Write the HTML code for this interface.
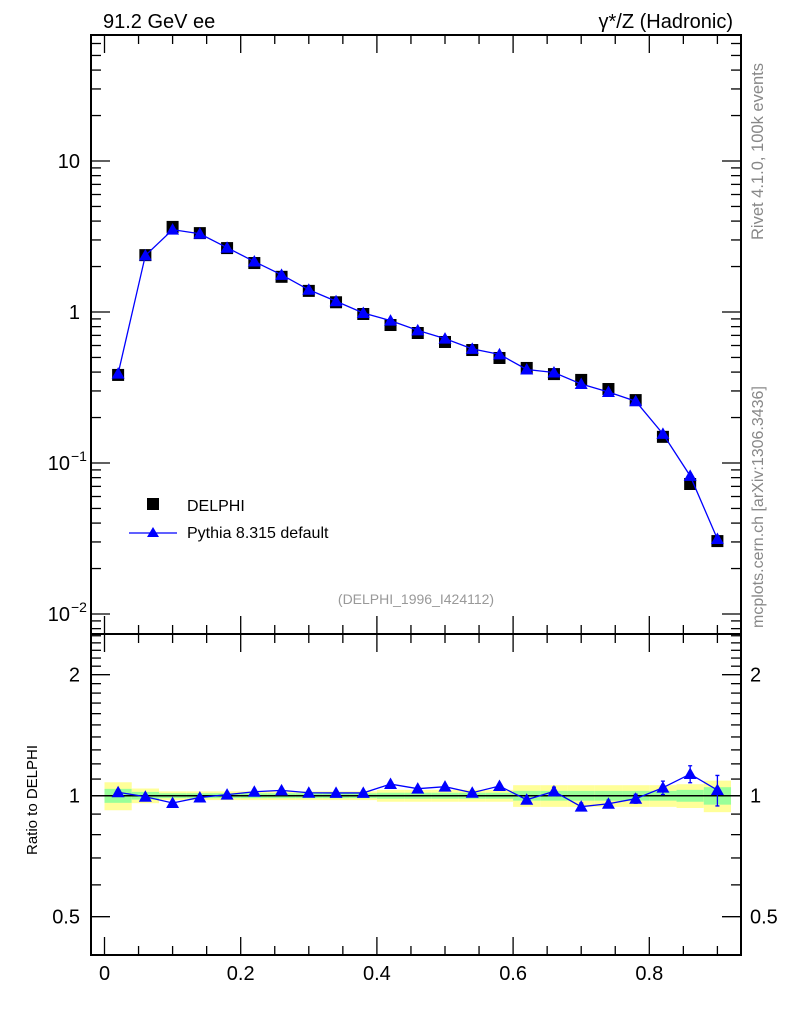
<!DOCTYPE html>
<html><head><meta charset="utf-8"><style>
html,body{margin:0;padding:0;background:#fff;}
svg{display:block;font-family:"Liberation Sans",Arial,sans-serif;}
</style></head><body>
<svg id="chart" width="786" height="1024" viewBox="0 0 786 1024" xmlns="http://www.w3.org/2000/svg">
<g id="bands"></g>
<g id="axes"></g>
<g id="marks"></g>
<text x="103" y="28" font-size="20">91.2 GeV ee</text>
<text x="733" y="28" font-size="20" text-anchor="end">γ*/Z (Hadronic)</text>
<text transform="translate(763,240) rotate(-90)" font-size="16.5" fill="#888">Rivet 4.1.0,  100k events</text>
<text transform="translate(763,628) rotate(-90)" font-size="16" fill="#888">mcplots.cern.ch [arXiv:1306.3436]</text>
<text x="416" y="604" font-size="14" fill="#999" text-anchor="middle">(DELPHI_1996_I424112)</text>
<text transform="translate(37,800) rotate(-90)" font-size="15" text-anchor="middle">Ratio to DELPHI</text>
<g>
<rect x="147" y="498" width="12" height="12" fill="#000"/>
<text x="187" y="511" font-size="16">DELPHI</text>
<line x1="129" y1="533" x2="177" y2="533" stroke="#00f" stroke-width="1.3"/>
<polygon points="153,527 147,537 159,537" fill="#00f"/>
<text x="187" y="538" font-size="16">Pythia 8.315 default</text>
</g>
</svg>
<script>
const xCenters=[0.02,0.06,0.10,0.14,0.18,0.22,0.26,0.30,0.34,0.38,0.42,0.46,0.50,0.54,0.58,0.62,0.66,0.70,0.74,0.78,0.82,0.86,0.90];
const dataValues=[0.383,2.38,3.66,3.33,2.65,2.11,1.71,1.38,1.16,0.97,0.82,0.726,0.633,0.56,0.496,0.426,0.388,0.355,0.309,0.261,0.149,0.0726,0.0304];
const ratioValues=[1.02,0.994,0.959,0.99,1.006,1.023,1.031,1.017,1.016,1.016,1.069,1.041,1.053,1.017,1.057,0.977,1.025,0.939,0.955,0.983,1.047,1.132,1.033];
const ratioErrors=[0.015,0.008,0.008,0.008,0.008,0.008,0.008,0.008,0.008,0.008,0.01,0.01,0.01,0.01,0.01,0.015,0.025,0.02,0.02,0.025,0.04,0.055,0.09];
const greenBand=[0.04,0.022,0.014,0.014,0.014,0.014,0.014,0.014,0.014,0.014,0.017,0.017,0.017,0.017,0.017,0.028,0.028,0.028,0.028,0.028,0.028,0.034,0.05];
const yellowBand=[0.08,0.042,0.025,0.025,0.025,0.025,0.025,0.025,0.025,0.025,0.034,0.034,0.034,0.034,0.034,0.062,0.062,0.062,0.062,0.062,0.062,0.068,0.09];
const binWidth=0.04;
const xTickLabels=["0","0.2","0.4","0.6","0.8"];
const ratioTickLabels=["0.5","1","2"];

const NS="http://www.w3.org/2000/svg";
const L=91,R=741,T=35,MB=634,RB=955;
const X=v=>104.5+v*681;
const Y=v=>312-151*Math.log10(v);
const YR=v=>795.7-121*Math.log2(v);
function mk(tag,attrs,parent){const e=document.createElementNS(NS,tag);for(const k in attrs)e.setAttribute(k,attrs[k]);parent.appendChild(e);return e;}
const axes=document.getElementById('axes'),marks=document.getElementById('marks'),bands=document.getElementById('bands');

xCenters.forEach((c,i)=>{
  const x0=X(c-binWidth/2),x1=X(c+binWidth/2);
  const y=mk('rect',{x:x0,y:YR(1+yellowBand[i]),width:x1-x0,height:YR(1-yellowBand[i])-YR(1+yellowBand[i]),fill:'#ffff99'},bands);
  
  
  const g=mk('rect',{x:x0,y:YR(1+greenBand[i]),width:x1-x0,height:YR(1-greenBand[i])-YR(1+greenBand[i]),fill:'#99ff99'},bands);
  
  
});
const ref=mk('line',{x1:L,x2:R,y1:YR(1),y2:YR(1),stroke:'#000','stroke-width':1.5},bands);



[[T,MB],[MB,RB]].forEach(([a,b],k)=>{
  const f=mk('rect',{x:L,y:a,width:R-L,height:b-a,fill:'none',stroke:'#000','stroke-width':2},axes);
  
  
});
for(let v=0;v<=0.9001;v+=0.05){
  const major=Math.abs(v/0.2-Math.round(v/0.2))<1e-6;const len=major?18:9;const x=X(v);
  [[T,1],[MB,-1],[MB,1],[RB,-1]].forEach(([y0,d])=>{
    const t=mk('line',{x1:x,x2:x,y1:y0,y2:y0+d*len,stroke:'#000','stroke-width':1.3},axes);
    
    
  });
}
xTickLabels.forEach((s,i)=>{
  const t=mk('text',{x:X(i*0.2),y:980,'font-size':20,'text-anchor':'middle'},axes);t.textContent=s;
  
  
});
for(let e=-3;e<=1;e++)for(let m=1;m<=9;m++){
  const v=m*Math.pow(10,e);const y=Y(v);if(y<T||y>MB)continue;
  const len=m===1?19:10;
  [[L,1],[R,-1]].forEach(([x0,d])=>{
    const t=mk('line',{x1:x0,x2:x0+d*len,y1:y,y2:y,stroke:'#000','stroke-width':1.3},axes);
    
    
  });
}
[[10,'10',null],[1,'1',null],[0.1,'10','−1'],[0.01,'10','−2']].forEach(([v,b,sup])=>{
  const t=mk('text',{x:sup?70:80,y:Y(v)+7,'font-size':20,'text-anchor':'end'},axes);t.textContent=b;
  
  
  if(sup){const s=mk('text',{x:71,y:Y(v)-2,'font-size':14},axes);s.textContent=sup;
    
    }
});
for(let k=4;k<=25;k++){
  const v=k/10;const y=YR(v);if(y<MB||y>RB)continue;
  const major=(k===5||k===10||k===20);const len=major?19:10;
  [[L,1],[R,-1]].forEach(([x0,d])=>{
    const t=mk('line',{x1:x0,x2:x0+d*len,y1:y,y2:y,stroke:'#000','stroke-width':1.3},axes);
    
    
  });
}
ratioTickLabels.forEach(s=>{
  const y=YR(parseFloat(s))+7;
  const a=mk('text',{x:80,y:y,'font-size':20,'text-anchor':'end'},axes);a.textContent=s;
  
  
  const b=mk('text',{x:750,y:y,'font-size':20},axes);b.textContent=s;
  
  
});

const mcValues=dataValues.map((d,i)=>d*ratioValues[i]);
dataValues.forEach((d,i)=>{
  const r=mk('rect',{x:X(xCenters[i])-6,y:Y(d)-6,width:12,height:12,fill:'#000'},marks);
  
  
});
const tri=(x,y,parent)=>mk('polygon',{points:`${x},${y-6.5} ${x-6.5},${y+5} ${x+6.5},${y+5}`,fill:'#00f'},parent);
const pl=mk('polyline',{points:xCenters.map((c,i)=>X(c)+','+Y(mcValues[i])).join(' '),fill:'none',stroke:'#00f','stroke-width':1.3},marks);


mcValues.forEach((v,i)=>{
  const p=tri(X(xCenters[i]),Y(v),marks);
  
  
});
const rl=mk('polyline',{points:xCenters.map((c,i)=>X(c)+','+YR(ratioValues[i])).join(' '),fill:'none',stroke:'#00f','stroke-width':1.3},marks);


ratioValues.forEach((v,i)=>{
  const x=X(xCenters[i]);
  const y1=YR(v+ratioErrors[i]),y2=YR(v-ratioErrors[i]);
  const e=mk('path',{d:`M${x},${y1}V${y2}M${x-2},${y1}H${x+2}M${x-2},${y2}H${x+2}`,stroke:'#00f','stroke-width':1.3,fill:'none'},marks);
  
  
  const p=tri(x,YR(v),marks);
  
  
});
</script>
</body></html>
